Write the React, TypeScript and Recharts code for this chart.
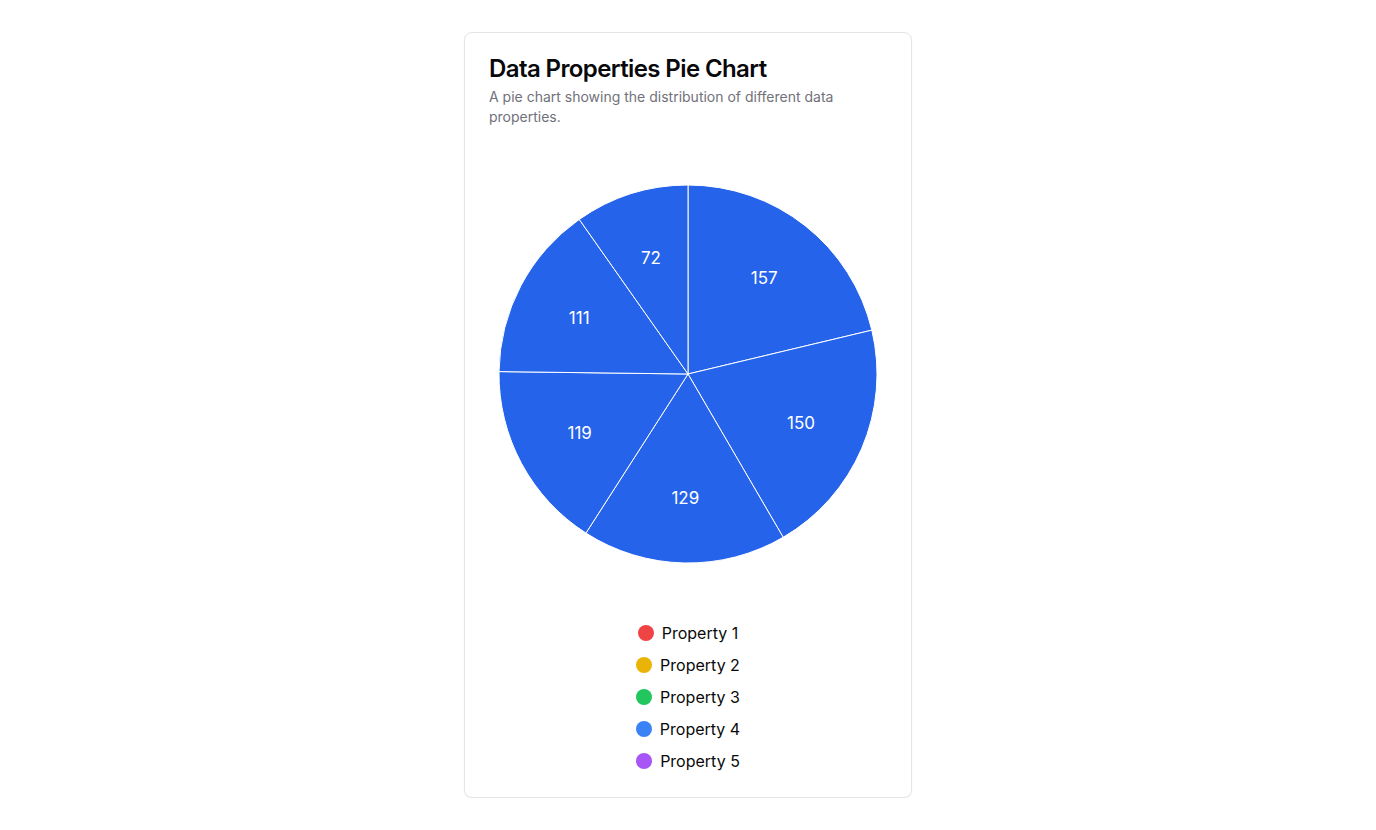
import React from "react";
import { PieChart, Pie, Cell, Legend } from "recharts";

// slice values, clockwise from the top
const sliceValues = [157, 150, 129, 119, 111, 72];
const sliceNames = ["A", "B", "C", "D", "E", "F"];

// legend entries
const legendLabels = ["Property 1", "Property 2", "Property 3", "Property 4", "Property 5"];
const legendColors = ["#ef4444", "#eab308", "#22c55e", "#3b82f6", "#a855f7"];

const chartData = sliceValues.map((v, i) => ({ name: sliceNames[i], value: v }));

const RADIAN = Math.PI / 180;

// value label inside each slice
const renderLabel = (props: any) => {
  const { cx, cy, midAngle, value } = props;
  const r = 123;
  const x = cx + r * Math.cos(-midAngle * RADIAN);
  const y = cy + r * Math.sin(-midAngle * RADIAN);
  return (
    <text
      x={x}
      y={y + 1}
      fill="#ffffff"
      fontSize={17}
      textAnchor="middle"
      dominantBaseline="central"
      fontFamily="Inter, sans-serif"
    >
      {value}
    </text>
  );
};

const CustomLegend = () => (
  <div style={{ display: "flex", flexDirection: "column", alignItems: "center" }}>
    {legendLabels.map((label, i) => (
      <div
        key={label}
        style={{ display: "flex", alignItems: "center", height: 32, gap: 8 }}
      >
        <span
          style={{
            width: 16,
            height: 16,
            borderRadius: "50%",
            background: legendColors[i],
            display: "inline-block",
          }}
        />
        <span style={{ fontSize: 16, color: "#0a0a0a" }}>{label}</span>
      </div>
    ))}
  </div>
);

export default function App() {
  return (
    <div
      style={{
        display: "flex",
        justifyContent: "center",
        paddingTop: 24,
        fontFamily: "Inter, sans-serif",
      }}
    >
      <div
        style={{
          width: 448,
          boxSizing: "border-box",
          border: "1px solid #e4e4e7",
          borderRadius: 8,
          background: "#fff",
          boxShadow: "0 1px 2px rgba(0,0,0,0.04)",
        }}
      >
        <div style={{ padding: 24 }}>
          <div
            style={{
              fontSize: 24,
              fontWeight: 600,
              lineHeight: "24px",
              letterSpacing: "-0.025em",
              color: "#09090b",
            }}
          >
            Data Properties Pie Chart
          </div>
          <div style={{ marginTop: 6, fontSize: 14, lineHeight: "20px", color: "#71717a" }}>
            A pie chart showing the distribution of different data properties.
          </div>
        </div>
        <div style={{ padding: "0 24px 24px 24px" }}>
          <PieChart width={398} height={622} margin={{ top: 0, right: 0, bottom: 0, left: 0 }}>
            <Pie
              data={chartData}
              dataKey="value"
              nameKey="name"
              cx={199}
              cy={223}
              outerRadius={189}
              startAngle={90}
              endAngle={-270}
              stroke="#ffffff"
              strokeWidth={1}
              label={renderLabel}
              labelLine={false}
              isAnimationActive={false}
            >
              {chartData.map((d) => (
                <Cell key={d.name} fill="#2563eb" />
              ))}
            </Pie>
            <Legend
              content={<CustomLegend />}
              wrapperStyle={{ top: 466, left: 0, width: 398, bottom: "auto" }}
            />
          </PieChart>
        </div>
      </div>
    </div>
  );
}
